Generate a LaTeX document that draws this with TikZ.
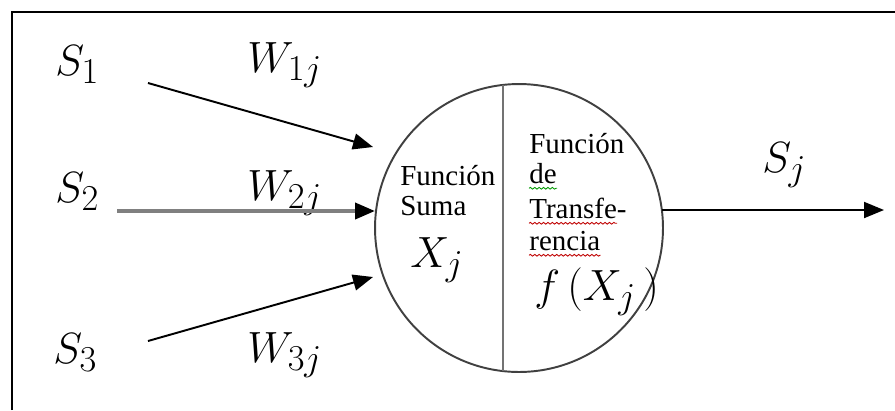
\documentclass[tikz,border=0pt]{standalone}
\usepackage{fontspec}
\setmainfont{Liberation Serif}
\usetikzlibrary{arrows.meta, decorations.pathmorphing}

\begin{document}
\begin{tikzpicture}[x=0.02cm, y=-0.02cm, >={Triangle[length=0.4cm, width=0.32cm]},
    sym/.style={anchor=base west, inner sep=0pt, font=\fontsize{24.88}{28}\selectfont},
    word/.style={anchor=base west, inner sep=0pt, font=\fontsize{16.5}{19}\selectfont},
    wire/.style={->, line width=1.1pt},
    squig/.style={decorate, decoration={snake, amplitude=0.5pt, segment length=2.5pt}, line width=0.5pt}]
    \useasboundingbox (0,0) rectangle (895,410);
    % frame
    \draw[line width=1.7pt] (12,410) -- (12,12) -- (895,12);

    % neuron
    \node (neuron) [circle, draw=black!75, line width=1.1pt, minimum size=5.76cm, inner sep=0pt] at (519,228) {};
    \draw[black!55, line width=1.6pt] (503,85) -- (503,371);

    % inputs
    \node[sym] (s1) at (55,75) {$S_1$};
    \node[sym] (s2) at (55,202) {$S_2$};
    \node[sym] (s3) at (53,363) {$S_3$};
    \node[sym] (w1) at (247,72) {$W_{1j}$};
    \node[sym] (w2) at (247,200) {$W_{2j}$};
    \node[sym] (w3) at (247,362) {$W_{3j}$};

    \coordinate (in1) at (148,83);  \coordinate (t1) at (373,147);
    \coordinate (in2) at (117,211); \coordinate (t2) at (375,211);
    \coordinate (in3) at (148,341); \coordinate (t3) at (373,277);
    \draw[wire] (in1) -- (t1);
    \draw[-{Triangle[length=0.4cm, width=0.32cm, black]}, black!50, line width=2.2pt] (in2) -- (t2);
    \draw[wire] (in3) -- (t3);

    % output
    \coordinate (o0) at (662,210);
    \coordinate (o1) at (884,210);
    \draw[wire] (o0) -- (o1);
    \node[sym] (sj) at (762,172) {$S_j$};

    % left half
    \node[word] (fn1) at (400,185) {Función};
    \node[word] (suma) at (400,215) {Suma};
    \node[sym] (xj) at (410,267) {$X_j$};

    % right half
    \node[word] (fn2) at (529,153) {Función};
    \node[word] (de) at (529,183) {de};
    \node[word] (transf) at (529,218) {Transfe-};
    \node[word] (rencia) at (529,250) {rencia};
    \node[sym] (fx) at (534,300) {$f\,(X_j\,)$};

    % spelling marks
    \draw[squig, green!60!black] ([yshift=-3pt]de.base west) -- ([yshift=-3pt]de.base east);
    \draw[squig, red!75!black] ([yshift=-3pt]transf.base west) -- ++(88,0);
    \draw[squig, red!75!black] ([yshift=-3pt]rencia.base west) -- ([yshift=-3pt]rencia.base east);
\end{tikzpicture}
\end{document}
